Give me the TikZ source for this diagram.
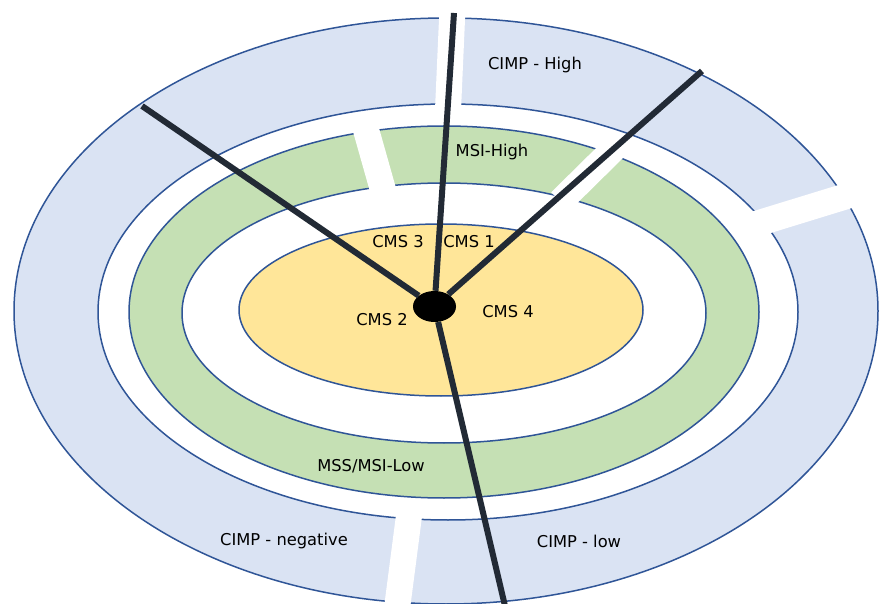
\documentclass[tikz,border=0pt]{standalone}
\usepackage{fontspec}
\setmainfont{DejaVu Sans}
\usetikzlibrary{shapes.geometric}
\definecolor{ringblue}{HTML}{DAE3F3}
\definecolor{ringgreen}{HTML}{C5E0B4}
\definecolor{coreyellow}{HTML}{FFE699}
\definecolor{edgeblue}{HTML}{2F5597}
\definecolor{spokegrey}{HTML}{222A35}

\begin{document}
\begin{tikzpicture}[x=1pt, y=-1pt,
    ring/.style={draw=edgeblue, line width=1.5pt, even odd rule},
    cut/.style={draw=white, line width=26pt},
    spokeline/.style={draw=spokegrey, line width=6pt},
    hubdot/.style={shape=ellipse, fill=black, minimum width=43pt, minimum height=31pt, inner sep=0pt},
    lbl/.style={font=\fontsize{16.3}{19}\selectfont, inner sep=0pt}]
    \useasboundingbox (0,0) rectangle (879,604);

    \path[ring, fill=ringblue] (446,311) ellipse (432 and 293) (448,312) ellipse (350 and 208);
    \path[ring, fill=ringgreen] (444,312) ellipse (315 and 186) (444,313) ellipse (262 and 130);
    \path[ring, fill=coreyellow] (441,310) ellipse (202 and 86);

    \draw[cut] (448,110) -- (452.5,8);
    \draw[cut] (748,226.4) -- (868,189.5);
    \draw[cut] (409.5,512) -- (396,616);
    \draw[cut] (364.3,123.8) -- (384.2,194.2);
    \draw[cut] (614.2,148.4) -- (560.3,201.6);

    \node[hubdot] (hub) at (434.5,306.5) {};
    \coordinate (tipTop) at (454,13);
    \coordinate (tipRight) at (702,71);
    \coordinate (tipLeft) at (142,106);
    \coordinate (tipBottom) at (505,606);
    \draw[spokeline] (hub) -- (tipTop);
    \draw[spokeline] (hub) -- (tipRight);
    \draw[spokeline] (hub) -- (tipLeft);
    \draw[spokeline] (hub) -- (tipBottom);

    \node[lbl] (cms3) at (398,242) {CMS 3};
    \node[lbl] (cms1) at (469,242) {CMS 1};
    \node[lbl] (cms2) at (382,320) {CMS 2};
    \node[lbl] (cms4) at (508,312) {CMS 4};
    \node[lbl] (msihigh) at (492,152) {MSI-High};
    \node[lbl] (msilow) at (371,466) {MSS/MSI-Low};
    \node[lbl] (cimphigh) at (535,65) {CIMP - High};
    \node[lbl] (cimpneg) at (284,541) {CIMP - negative};
    \node[lbl] (cimplow) at (579,541) {CIMP - low};
\end{tikzpicture}
\end{document}
